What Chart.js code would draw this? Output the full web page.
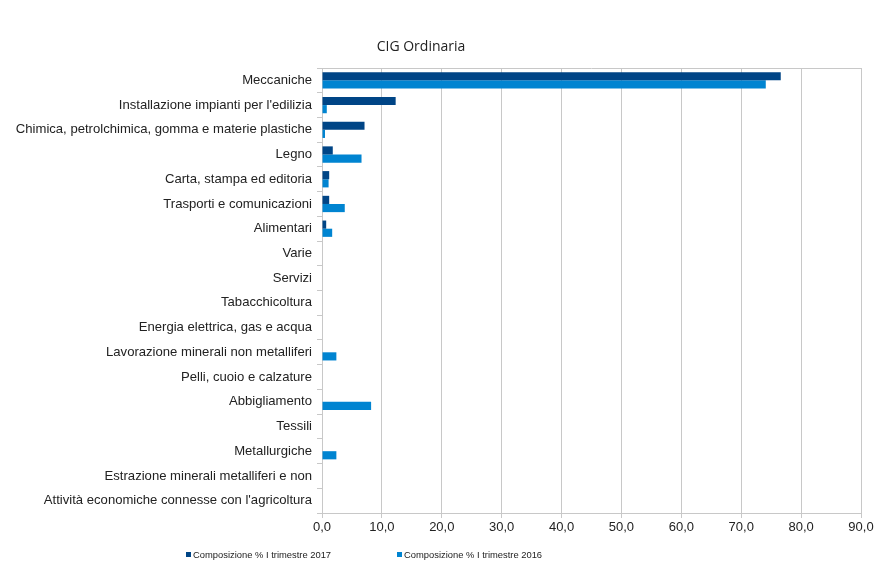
<!DOCTYPE html>
<html>
<head>
<meta charset="utf-8">
<script src="https://cdn.jsdelivr.net/npm/chart.js@4.4.0/dist/chart.umd.min.js"></script>
<style>
  html, body { margin: 0; padding: 0; background: #fff; }
  #wrap { width: 879px; height: 563px; }
</style>
</head>
<body>
<div id="wrap"><canvas id="cig"></canvas></div>
<script>
// categories top to bottom
var settori = [
  'Meccaniche',
  "Installazione impianti per l'edilizia",
  'Chimica, petrolchimica, gomma e materie plastiche',
  'Legno',
  'Carta, stampa ed editoria',
  'Trasporti e comunicazioni',
  'Alimentari',
  'Varie',
  'Servizi',
  'Tabacchicoltura',
  'Energia elettrica, gas e acqua',
  'Lavorazione minerali non metalliferi',
  'Pelli, cuoio e calzature',
  'Abbigliamento',
  'Tessili',
  'Metallurgiche',
  'Estrazione minerali metalliferi e non',
  "Attività economiche connesse con l'agricoltura"
];
var comp2017 = [76.6, 12.3, 7.1, 1.8, 1.2, 1.2, 0.7, 0, 0, 0, 0, 0, 0, 0, 0, 0, 0, 0];
var comp2016 = [74.1, 0.8, 0.5, 6.6, 1.1, 3.8, 1.7, 0, 0, 0, 0, 2.4, 0, 8.2, 0, 2.4, 0, 0];
var xTicks = [0, 10, 20, 30, 40, 50, 60, 70, 80, 90];

var scuro = '#004586';
var chiaro = '#0084D1';

// title, top border and legend drawn by hand to match the layout
var extras = {
  id: 'extras',
  afterDraw: function (chart) {
    var c = chart.ctx, a = chart.chartArea;
    c.save();
    c.strokeStyle = '#c8c8c8';
    c.lineWidth = 1;
    c.beginPath();
    c.moveTo(a.left, a.top + 0.5);
    c.lineTo(a.right, a.top + 0.5);
    c.stroke();

    c.fillStyle = '#222';
    c.font = '14px "Open Sans"';
    c.textAlign = 'center';
    c.textBaseline = 'middle';
    c.fillText('CIG Ordinaria', 421, 47);

    c.font = '9.4px "Liberation Sans"';
    c.textAlign = 'left';
    var xs = [186, 397];
    chart.data.datasets.forEach(function (ds, i) {
      c.fillStyle = ds.backgroundColor;
      c.fillRect(xs[i], 552, 5, 5);
      c.fillStyle = '#222';
      c.fillText(ds.label, xs[i] + 7, 555);
    });
    c.restore();
  }
};

new Chart(document.getElementById('cig'), {
  type: 'bar',
  data: {
    labels: settori,
    datasets: [{
      label: 'Composizione % I trimestre 2017',
      data: comp2017,
      backgroundColor: scuro,
      borderWidth: 0,
      barPercentage: 1,
      categoryPercentage: 0.66
    }, {
      label: 'Composizione % I trimestre 2016',
      data: comp2016,
      backgroundColor: chiaro,
      borderWidth: 0,
      barPercentage: 1,
      categoryPercentage: 0.66
    }]
  },
  plugins: [extras],
  options: {
    indexAxis: 'y',
    responsive: true,
    maintainAspectRatio: false,
    animation: false,
    layout: { padding: { top: 68, right: 18, bottom: 0, left: 0 } },
    plugins: {
      legend: { display: false },
      tooltip: { enabled: false }
    },
    scales: {
      x: {
        min: 0,
        max: 90,
        afterBuildTicks: function (s) { s.ticks = xTicks.map(function (v) { return { value: v }; }); },
        afterFit: function (s) { s.height = 50; },
        grid: { color: '#c8c8c8', tickLength: 5 },
        border: { color: '#c8c8c8' },
        ticks: {
          color: '#222',
          font: { family: 'Liberation Sans', size: 13 },
          maxRotation: 0,
          padding: 2,
          callback: function (v) { return v.toFixed(1).replace('.', ','); }
        }
      },
      y: {
        afterFit: function (s) { s.width = 322; },
        grid: { drawOnChartArea: false, color: '#c8c8c8', tickLength: 5, offset: true },
        border: { color: '#c8c8c8' },
        ticks: {
          color: '#222',
          font: { family: 'Liberation Sans', size: 13.1 },
          padding: 5,
          autoSkip: false
        }
      }
    }
  }
});
</script>
</body>
</html>
